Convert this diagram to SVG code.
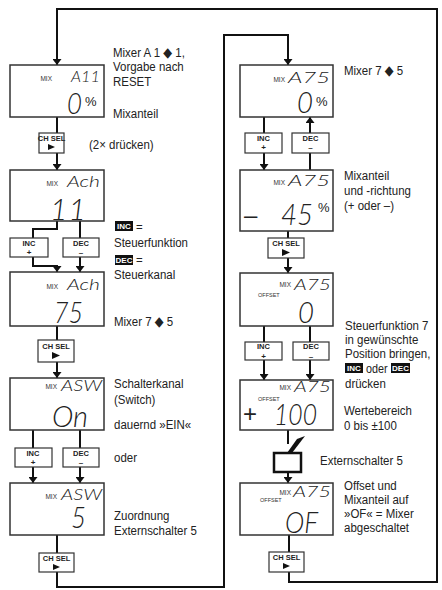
<svg xmlns="http://www.w3.org/2000/svg" width="442" height="590" viewBox="0 0 442 590">
<defs>
<style>
.lb{font-family:"Liberation Sans","DejaVu Sans",sans-serif;font-size:13.5px;fill:#222}
.box{fill:#fff;stroke:#333;stroke-width:1.5}
.btn{fill:#fff;stroke:#333;stroke-width:1.2}
.bt{font-family:"Liberation Sans","DejaVu Sans",sans-serif;font-size:7.5px;font-weight:bold;fill:#222;text-anchor:middle}
.bs{font-family:"Liberation Sans","DejaVu Sans",sans-serif;font-size:8px;font-weight:bold;fill:#222;text-anchor:middle}
.mix{font-family:"Liberation Sans","DejaVu Sans",sans-serif;font-size:6.5px;fill:#333}
.off{font-family:"Liberation Sans","DejaVu Sans",sans-serif;font-size:5.5px;fill:#333}
.seg{font-family:Lato,"Liberation Sans",sans-serif;font-weight:300;font-style:italic;font-size:16px;fill:#222}
.big{font-family:Lato,"Liberation Sans",sans-serif;font-weight:300;font-style:italic;font-size:30px;fill:#222}
.pct{font-family:"Liberation Sans","DejaVu Sans",sans-serif;font-size:13px;fill:#222}
.sgn{font-family:"Liberation Sans","DejaVu Sans",sans-serif;font-size:24px;fill:#222}
.inv{font-family:"Liberation Sans","DejaVu Sans",sans-serif;font-size:8px;font-weight:bold;fill:#fff;text-anchor:middle}
.ln{fill:none;stroke:#111;stroke-width:2}
.gl{fill:none;stroke:#999;stroke-width:1.5}
</style>
<marker id="ah" viewBox="0 0 6 9" refX="6" refY="4.5" markerWidth="6" markerHeight="9" markerUnits="userSpaceOnUse" orient="auto"><path d="M0,0 L6,4.5 L0,9 z" fill="#111"/></marker>
<marker id="ag" viewBox="0 0 6 9" refX="6" refY="4.5" markerWidth="6" markerHeight="9" markerUnits="userSpaceOnUse" orient="auto"><path d="M0,0 L6,4.5 L0,9 z" fill="#999"/></marker>
</defs>
<rect width="442" height="590" fill="#fff"/>

<g id="connectors">
<path class="ln" d="M289,572 V582 H437 V9 H57 V65" marker-end="url(#ah)"/>
<path class="ln" d="M57,117 V133"/>
<path class="ln" d="M57,153 V170" marker-end="url(#ah)"/>
<path class="ln" d="M57,221 V229 H33 V238"/>
<path class="ln" d="M80,221 V238"/>
<path class="ln" d="M33,257 V266 H57 V272" marker-end="url(#ah)"/>
<path class="ln" d="M80,257 V272" marker-end="url(#ah)"/>
<path class="gl" d="M57,273 V290 V301" marker-mid="url(#ag)" marker-end="url(#ag)"/>
<path class="gl" d="M80,273 V290 V301" marker-mid="url(#ag)" marker-end="url(#ag)"/>
<path class="ln" d="M57,326 V340"/>
<path class="ln" d="M57,362 V378" marker-end="url(#ah)"/>
<path class="ln" d="M33,430 V448"/>
<path class="ln" d="M80,430 V448"/>
<path class="ln" d="M33,467 V483" marker-end="url(#ah)"/>
<path class="ln" d="M80,467 V483" marker-end="url(#ah)"/>
<path class="ln" d="M57,535 V553"/>
<path class="ln" d="M57,572 V587 H224 V35 H288 V65" marker-end="url(#ah)"/>
<path class="ln" d="M264,117 V133"/>
<path class="ln" d="M264,153 V170" marker-end="url(#ah)"/>
<path class="ln" d="M310,170 V153"/>
<path class="ln" d="M310,133 V117" marker-end="url(#ah)"/>
<path class="ln" d="M288,231 V238"/>
<path class="ln" d="M288,258 V273" marker-end="url(#ah)"/>
<path class="ln" d="M264,326 V342"/>
<path class="ln" d="M310,326 V342"/>
<path class="ln" d="M264,360 V380" marker-end="url(#ah)"/>
<path class="ln" d="M310,360 V380" marker-end="url(#ah)"/>
<path class="ln" d="M288,430 V444"/>
<path class="ln" d="M288,472 V483" marker-end="url(#ah)"/>
<path class="ln" d="M289,535 V552"/>
</g>

<g id="box1">
<rect class="box" x="10" y="65" width="94" height="52"/>
<text class="mix" x="52" y="81" text-anchor="end">MIX</text>
<text class="seg" x="71" y="82" textLength="29" lengthAdjust="spacingAndGlyphs">A11</text>
<text class="big" x="67" y="114" textLength="15" lengthAdjust="spacingAndGlyphs">0</text>
<text class="pct" x="85" y="106">%</text>
</g>
<g id="label1">
<text class="lb" transform="translate(113,57) scale(0.85,1)">Mixer A 1 ◆ 1,</text>
<text class="lb" transform="translate(113,71) scale(0.85,1)">Vorgabe nach</text>
<text class="lb" transform="translate(113,86) scale(0.85,1)">RESET</text>
<text class="lb" transform="translate(113,118) scale(0.85,1)">Mixanteil</text>
</g>

<g id="chsel1">
<rect class="btn" x="39" y="133" width="25" height="20"/>
<text class="bt" x="51.5" y="141">CH SEL</text>
<path d="M48,144 L55,147 L48,150 z" fill="#111"/>
</g>
<text class="lb" transform="translate(89,149) scale(0.85,1)">(2× drücken)</text>

<g id="box2">
<rect class="box" x="10" y="170" width="94" height="51"/>
<text class="mix" x="58" y="186" text-anchor="end">MIX</text>
<text class="seg" x="67" y="187" textLength="33" lengthAdjust="spacingAndGlyphs">Ach</text>
<text class="big" x="50" y="220" textLength="36" lengthAdjust="spacing">11</text>
</g>

<g id="inc1">
<rect class="btn" x="10" y="238" width="38" height="19"/>
<text class="bt" x="29" y="245.5">INC</text>
<text class="bs" x="29" y="255">+</text>
</g>
<g id="dec1">
<rect class="btn" x="63" y="238" width="36" height="19"/>
<text class="bt" x="81" y="245.5">DEC</text>
<text class="bs" x="81" y="255">–</text>
</g>
<g id="label2">
<rect x="115" y="221" width="18" height="10" fill="#111"/>
<text class="inv" x="124" y="229">INC</text>
<text class="lb" transform="translate(136,231) scale(0.85,1)">=</text>
<text class="lb" transform="translate(114,247) scale(0.85,1)">Steuerfunktion</text>
<rect x="115" y="255" width="18" height="10" fill="#111"/>
<text class="inv" x="124" y="263">DEC</text>
<text class="lb" transform="translate(136,263.5) scale(0.85,1)">=</text>
<text class="lb" transform="translate(114,279) scale(0.85,1)">Steuerkanal</text>
</g>

<g id="box3">
<rect class="box" x="10" y="272" width="94" height="54"/>
<text class="mix" x="58" y="289" text-anchor="end">MIX</text>
<text class="seg" x="67" y="290" textLength="33" lengthAdjust="spacingAndGlyphs">Ach</text>
<text class="big" x="54" y="323" textLength="29" lengthAdjust="spacingAndGlyphs">75</text>
</g>
<text class="lb" transform="translate(114,326) scale(0.85,1)">Mixer 7 ◆ 5</text>

<g id="chsel2">
<rect class="btn" x="38" y="340" width="36" height="22"/>
<text class="bt" x="56" y="349">CH SEL</text>
<path d="M52,352 L60,355.5 L52,359 z" fill="#111"/>
</g>

<g id="box4">
<rect class="box" x="10" y="378" width="94" height="52"/>
<text class="mix" x="57" y="389" text-anchor="end">MIX</text>
<text class="seg" x="61" y="391" textLength="41" lengthAdjust="spacingAndGlyphs">ASW</text>
<text class="big" x="52" y="427" textLength="36" lengthAdjust="spacingAndGlyphs">On</text>
</g>
<g id="label4">
<text class="lb" transform="translate(114,388) scale(0.85,1)">Schalterkanal</text>
<text class="lb" transform="translate(114,404) scale(0.85,1)">(Switch)</text>
<text class="lb" transform="translate(114,429) scale(0.85,1)">dauernd »EIN«</text>
</g>

<g id="inc2">
<rect class="btn" x="15" y="448" width="37" height="19"/>
<text class="bt" x="33" y="455.5">INC</text>
<text class="bs" x="33" y="465">+</text>
</g>
<g id="dec2">
<rect class="btn" x="63" y="448" width="36" height="19"/>
<text class="bt" x="81" y="455.5">DEC</text>
<text class="bs" x="81" y="465">–</text>
</g>
<text class="lb" transform="translate(114,462) scale(0.85,1)">oder</text>

<g id="box5">
<rect class="box" x="10" y="483" width="94" height="52"/>
<text class="mix" x="57" y="499" text-anchor="end">MIX</text>
<text class="seg" x="61" y="500" textLength="41" lengthAdjust="spacingAndGlyphs">ASW</text>
<text class="big" x="71" y="528" textLength="15" lengthAdjust="spacingAndGlyphs">5</text>
</g>
<g id="label5">
<text class="lb" transform="translate(114,520) scale(0.85,1)">Zuordnung</text>
<text class="lb" transform="translate(114,535) scale(0.85,1)">Externschalter 5</text>
</g>

<g id="chsel3">
<rect class="btn" x="39" y="553" width="35" height="19"/>
<text class="bt" x="56.5" y="561">CH SEL</text>
<path d="M53,564 L60,567 L53,570 z" fill="#111"/>
</g>

<g id="box6">
<rect class="box" x="240" y="65" width="93" height="52"/>
<text class="mix" x="285" y="82" text-anchor="end">MIX</text>
<text class="seg" x="288" y="83" textLength="42" lengthAdjust="spacingAndGlyphs">A75</text>
<text class="big" x="297" y="113" textLength="16" lengthAdjust="spacingAndGlyphs">0</text>
<text class="pct" x="316" y="106">%</text>
</g>
<text class="lb" transform="translate(344,75) scale(0.85,1)">Mixer 7 ◆ 5</text>

<g id="inc3">
<rect class="btn" x="245" y="133" width="37" height="20"/>
<text class="bt" x="263.5" y="140.5">INC</text>
<text class="bs" x="263.5" y="150">+</text>
</g>
<g id="dec3">
<rect class="btn" x="292" y="133" width="37" height="20"/>
<text class="bt" x="310.5" y="140.5">DEC</text>
<text class="bs" x="310.5" y="150">–</text>
</g>

<g id="box7">
<rect class="box" x="240" y="170" width="93" height="61"/>
<text class="mix" x="285" y="185" text-anchor="end">MIX</text>
<text class="seg" x="288" y="186" textLength="42" lengthAdjust="spacingAndGlyphs">A75</text>
<text class="sgn" x="244" y="223">–</text>
<text class="big" x="281" y="225" textLength="32" lengthAdjust="spacingAndGlyphs">45</text>
<text class="pct" x="318" y="212">%</text>
</g>
<g id="label7">
<text class="lb" transform="translate(344,180) scale(0.85,1)">Mixanteil</text>
<text class="lb" transform="translate(344,195) scale(0.85,1)">und -richtung</text>
<text class="lb" transform="translate(344,210) scale(0.85,1)">(+ oder –)</text>
</g>

<g id="chsel4">
<rect class="btn" x="268" y="238" width="36" height="20"/>
<text class="bt" x="286" y="246">CH SEL</text>
<path d="M282,249 L290,252.5 L282,256 z" fill="#111"/>
</g>

<g id="box8">
<rect class="box" x="240" y="273" width="93" height="53"/>
<text class="mix" x="291" y="287" text-anchor="end">MIX</text>
<text class="seg" x="294" y="290" textLength="37" lengthAdjust="spacingAndGlyphs">A75</text>
<text class="off" x="258" y="297">OFFSET</text>
<text class="big" x="298" y="323" textLength="16" lengthAdjust="spacingAndGlyphs">0</text>
</g>
<g id="label8">
<text class="lb" transform="translate(345,330) scale(0.85,1)">Steuerfunktion 7</text>
<text class="lb" transform="translate(345,344) scale(0.85,1)">in gewünschte</text>
<text class="lb" transform="translate(345,358) scale(0.85,1)">Position bringen,</text>
<rect x="345" y="363" width="18" height="10" fill="#111"/>
<text class="inv" x="354" y="371">INC</text>
<text class="lb" transform="translate(366,373) scale(0.8,1)">oder</text>
<rect x="391" y="363" width="19" height="10" fill="#111"/>
<text class="inv" x="400.5" y="371">DEC</text>
<text class="lb" transform="translate(345,388) scale(0.85,1)">drücken</text>
</g>

<g id="inc4">
<rect class="btn" x="245" y="342" width="37" height="18"/>
<text class="bt" x="263.5" y="349">INC</text>
<text class="bs" x="263.5" y="358.5">+</text>
</g>
<g id="dec4">
<rect class="btn" x="293" y="342" width="36" height="18"/>
<text class="bt" x="311" y="349">DEC</text>
<text class="bs" x="311" y="358.5">–</text>
</g>

<g id="box9">
<rect class="box" x="240" y="380" width="93" height="50"/>
<text class="mix" x="291" y="390" text-anchor="end">MIX</text>
<text class="seg" x="294" y="392" textLength="37" lengthAdjust="spacingAndGlyphs">A75</text>
<text class="off" x="258" y="401">OFFSET</text>
<text class="sgn" x="243" y="422">+</text>
<text class="big" x="274" y="425" textLength="43" lengthAdjust="spacingAndGlyphs">100</text>
</g>
<g id="label9">
<text class="lb" transform="translate(344,415) scale(0.85,1)">Wertebereich</text>
<text class="lb" transform="translate(344,430) scale(0.85,1)">0 bis ±100</text>
</g>

<g id="switch5">
<polygon points="287,453 297,439 305,436 292,453" fill="#111"/>
<rect x="274" y="453" width="27" height="19" fill="#fff" stroke="#111" stroke-width="2.5"/>
</g>
<text class="lb" transform="translate(320,465) scale(0.85,1)">Externschalter 5</text>

<g id="box10">
<rect class="box" x="240" y="483" width="93" height="52"/>
<text class="mix" x="291" y="495" text-anchor="end">MIX</text>
<text class="seg" x="293" y="497" textLength="38" lengthAdjust="spacingAndGlyphs">A75</text>
<text class="off" x="260" y="502">OFFSET</text>
<text class="big" x="285" y="533" textLength="33" lengthAdjust="spacingAndGlyphs">OF</text>
</g>
<g id="label10">
<text class="lb" transform="translate(344,490) scale(0.85,1)">Offset und</text>
<text class="lb" transform="translate(344,504) scale(0.85,1)">Mixanteil auf</text>
<text class="lb" transform="translate(344,518) scale(0.85,1)">»OF« = Mixer</text>
<text class="lb" transform="translate(344,532) scale(0.85,1)">abgeschaltet</text>
</g>

<g id="chsel5">
<rect class="btn" x="269" y="552" width="35" height="20"/>
<text class="bt" x="286.5" y="560">CH SEL</text>
<path d="M283,563 L290,566 L283,569 z" fill="#111"/>
</g>
</svg>
